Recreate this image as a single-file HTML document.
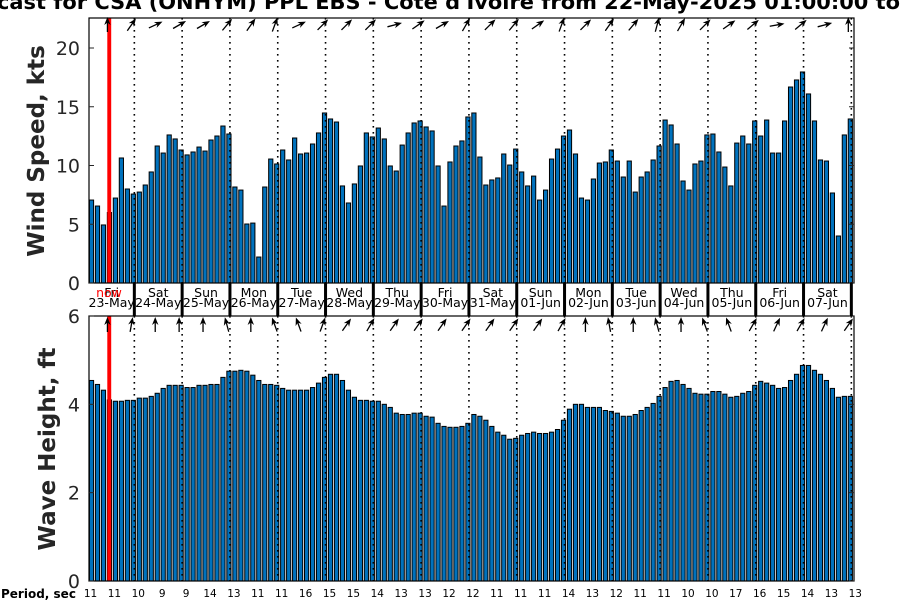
<!DOCTYPE html>
<html><head><meta charset="utf-8"><style>
html,body{margin:0;padding:0;background:#fff;}
svg{display:block;font-family:"DejaVu Sans","Liberation Sans",sans-serif;}
</style></head><body>
<svg id="chart" width="900" height="600" viewBox="0 0 900 600" xmlns="http://www.w3.org/2000/svg">
<defs><clipPath id="clipTop"><rect x="89" y="18" width="765" height="265"/></clipPath>
<clipPath id="clipBot"><rect x="89" y="316" width="765" height="265"/></clipPath></defs>
<rect x="0" y="0" width="900" height="600" fill="#fff"/>
<text x="-3" y="9" font-size="20" font-weight="bold" fill="#000" textLength="903" lengthAdjust="spacingAndGlyphs">cast for CSA (ONHYM) PPL EBS  - Cote d'Ivoire from 22-May-2025 01:00:00 to</text>
<g id="topPanel"></g><g id="botPanel"></g><g id="strip"></g>
<text transform="translate(44,151) rotate(-90)" text-anchor="middle" font-size="23" font-weight="bold" fill="#262626">Wind Speed, kts</text>
<text transform="translate(55,449) rotate(-90)" text-anchor="middle" font-size="23" font-weight="bold" fill="#262626">Wave Height, ft</text>
<text x="1" y="598" font-size="12" font-weight="bold" fill="#000">Period, sec</text>
</svg>
<script>
const wind=[7.06,6.55,4.94,6.0,7.23,10.64,8.0,7.57,7.74,8.34,9.45,11.66,11.06,12.6,12.26,11.32,10.9,11.15,11.57,11.23,12.17,12.51,13.36,12.68,8.17,7.91,5.02,5.1,2.21,8.17,10.55,10.13,11.32,10.47,12.34,10.98,11.06,11.83,12.77,14.47,13.96,13.7,8.26,6.81,8.43,9.96,12.77,12.43,13.19,12.26,9.96,9.53,11.74,12.77,13.62,13.79,13.28,12.94,9.96,6.55,10.3,11.66,12.09,14.13,14.47,10.72,8.34,8.77,8.94,10.98,10.04,11.4,9.45,8.26,9.1,7.06,7.91,10.55,11.4,12.51,13.02,10.98,7.23,7.06,8.85,10.21,10.3,11.32,10.38,9.02,10.38,7.74,9.02,9.45,10.47,11.66,13.87,13.45,11.83,8.68,7.91,10.13,10.38,12.6,12.68,11.15,9.87,8.26,11.91,12.51,11.83,13.79,12.51,13.87,11.06,11.06,13.79,16.68,17.28,17.96,16.09,13.79,10.47,10.38,7.66,4.0,12.6,13.96,10.1];
const wave=[4.54,4.45,4.32,4.1,4.07,4.07,4.09,4.09,4.14,4.14,4.18,4.25,4.36,4.43,4.43,4.43,4.38,4.38,4.43,4.43,4.45,4.45,4.61,4.75,4.75,4.77,4.75,4.66,4.54,4.45,4.45,4.43,4.36,4.32,4.32,4.32,4.32,4.38,4.48,4.61,4.68,4.68,4.54,4.32,4.16,4.09,4.09,4.07,4.07,4.0,3.93,3.8,3.77,3.77,3.8,3.8,3.73,3.71,3.57,3.5,3.48,3.48,3.5,3.57,3.77,3.73,3.64,3.5,3.37,3.3,3.21,3.23,3.3,3.34,3.37,3.34,3.34,3.37,3.43,3.64,3.89,4.0,4.0,3.93,3.93,3.93,3.86,3.84,3.8,3.73,3.73,3.77,3.86,3.93,4.02,4.18,4.38,4.52,4.54,4.45,4.36,4.25,4.23,4.23,4.29,4.29,4.23,4.16,4.18,4.25,4.29,4.43,4.52,4.48,4.43,4.36,4.38,4.54,4.68,4.88,4.88,4.77,4.68,4.54,4.36,4.16,4.18,4.18,4.09];
const periods=[11,11,10,9,9,14,13,11,11,16,15,15,14,13,13,12,12,11,11,11,14,13,12,11,11,10,10,17,16,15,14,13,13];
const windDir=[0,35,65,60,60,40,35,20,65,45,45,45,75,55,60,30,45,40,55,20,45,35,40,15,30,45,55,50,80,50,75,0];
const waveDir=[0,10,0,0,0,-15,0,-20,-20,20,35,30,35,35,35,35,35,35,35,30,0,-10,0,-15,0,-20,-20,30,25,30,25,35];
const dayNames=["Fri","Sat","Sun","Mon","Tue","Wed","Thu","Fri","Sat","Sun","Mon","Tue","Wed","Thu","Fri","Sat"];
const dayDates=["23-May","24-May","25-May","26-May","27-May","28-May","29-May","30-May","31-May","01-Jun","02-Jun","03-Jun","04-Jun","05-Jun","06-Jun","07-Jun"];
const windTicks=[0,5,10,15,20];
const waveTicks=[0,2,4,6];
const NS="http://www.w3.org/2000/svg";
const X0=91.5,DX=5.975,L=89,R=854;
const xs=i=>X0+i*DX;
const yW=v=>283-v*11.75;
const yH=v=>581-v*44.17;
const dayStart=7.17;
function mk(p,tag,at){const e=document.createElementNS(NS,tag);for(const k in at)e.setAttribute(k,at[k]);p.appendChild(e);return e;}
const gTop=document.getElementById('topPanel'),gBot=document.getElementById('botPanel'),gStrip=document.getElementById('strip');
function panel(g,data,yf,y0,y1,ticks,dirs,ay,clip,pfx){
  const bars=mk(g,'g',{'clip-path':'url(#'+clip+')'});
  data.forEach((v,i)=>{const r=mk(bars,'rect',{x:xs(i)-2.1,y:yf(v),width:4.2,height:yf(0)-yf(v),fill:'#0072BD',stroke:'#000','stroke-width':1});
    
    });
  for(let k=0;k<16;k++){const xx=xs(dayStart+8*k);const l=mk(g,'line',{x1:xx,y1:y0,x2:xx,y2:y1,stroke:'#000','stroke-width':1.6,'stroke-dasharray':'1.6 4.4'});
    
    }
  const red=mk(g,'rect',{x:107.3,y:y0,width:3.9,height:y1-y0,fill:'#ff0000'});
  
  
  dirs.forEach((d,k)=>{const cx=xs(3+4*k)-2,a=mk(g,'g',{transform:'translate('+cx+','+ay+') rotate('+d+')'});
    
    
    mk(a,'line',{x1:0,y1:7,x2:0,y2:-4,stroke:'#000','stroke-width':1.3});
    mk(a,'path',{d:'M0,-8 L-3.2,0 L0,-2.5 L3.2,0 Z',fill:'#000'});});
  const fr=mk(g,'rect',{x:L,y:y0,width:R-L,height:y1-y0,fill:'none',stroke:'#000','stroke-width':1.2});
  
  
  ticks.forEach(t=>{const yy=yf(t);mk(g,'line',{x1:L,y1:yy,x2:L+5,y2:yy,stroke:'#262626'});mk(g,'line',{x1:R-5,y1:yy,x2:R,y2:yy,stroke:'#262626'});
    const tx=mk(g,'text',{x:80,y:yy+7,'text-anchor':'end','font-size':19,fill:'#262626'});tx.textContent=t;
    
    });
}
panel(gTop,wind,yW,18,283,windTicks,windDir,25,'clipTop','wind');
panel(gBot,wave,yH,316,581,waveTicks,waveDir,325,'clipBot','wave');
const bnds=[L];for(let k=0;k<16;k++)bnds.push(xs(dayStart+8*k));
for(let k=0;k<16;k++){const a=bnds[k],b=bnds[k+1],c=(a+b)/2;
  const g=mk(gStrip,'g',{});
  
  
  const t1=mk(g,'text',{x:c,y:297,'text-anchor':'middle','font-size':12.5,fill:'#000'});t1.textContent=dayNames[k];
  const t2=mk(g,'text',{x:c,y:307,'text-anchor':'middle','font-size':12.5,fill:'#000'});t2.textContent=dayDates[k];
  const s=mk(gStrip,'rect',{x:b-1.5,y:283,width:3,height:33,fill:'#000'});
  
  }
const nw=mk(gStrip,'text',{x:109,y:297,'text-anchor':'middle','font-size':12.5,fill:'#ff0000'});nw.textContent='now';


periods.forEach((p,k)=>{const t=mk(gStrip,'text',{x:xs(4*k)-1,y:597,'text-anchor':'middle','font-size':10.5,fill:'#000'});t.textContent=p;
  
  });
</script>
</body></html>
